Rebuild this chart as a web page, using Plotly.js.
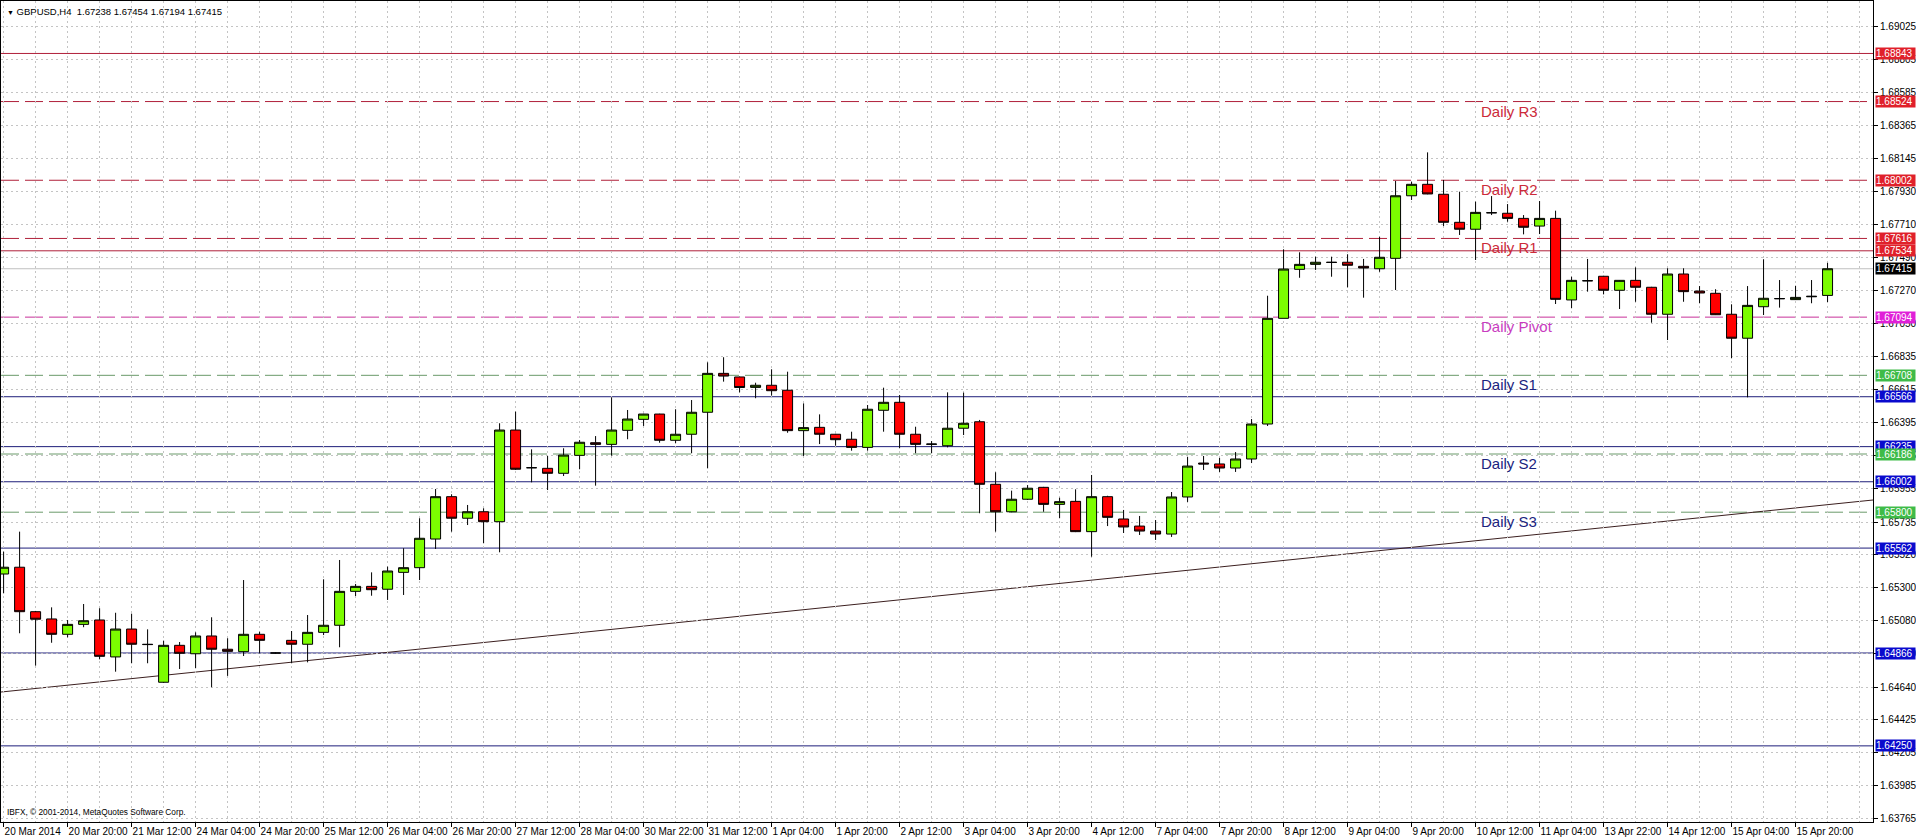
<!DOCTYPE html>
<html>
<head>
<meta charset="utf-8">
<script src="https://cdn.plot.ly/plotly-3.0.1.min.js"></script>
<style>
html,body{margin:0;padding:0;background:#ffffff;}
#chart{width:1916px;height:840px;}
</style>
</head>
<body>
<div id="chart"></div>
<script>
// ---------------- DATA ----------------
const SYMBOL = 'GBPUSD,H4';
const COPYRIGHT = 'IBFX, \u00a9 2001-2014, MetaQuotes Software Corp.';

// H4 bars, oldest first
const OPEN = [
1.65390,1.65435,1.65140,1.65092,1.64990,1.65056,1.65085,1.64840,1.65025,1.64924,
1.64672,1.64917,1.64861,1.64979,1.64891,1.64875,1.64990,1.64866,1.64950,1.64924,
1.65003,1.65050,1.65275,1.65308,1.65289,1.65401,1.65432,1.65622,1.65903,1.65760,
1.65803,1.65737,1.66345,1.66095,1.66091,1.66058,1.66177,1.66261,1.66250,1.66343,
1.66416,1.66451,1.66277,1.66317,1.66463,1.66721,1.66697,1.66628,1.66642,1.66609,
1.66341,1.66363,1.66317,1.66284,1.66230,1.66476,1.66529,1.66317,1.66250,1.66241,
1.66357,1.66400,1.65985,1.65803,1.65886,1.65965,1.65852,1.65872,1.65671,1.65903,
1.65755,1.65708,1.65675,1.65655,1.65901,1.66126,1.66120,1.66093,1.66153,1.66385,
1.67086,1.67411,1.67444,1.67458,1.67458,1.67431,1.67415,1.67484,1.67899,1.67975,
1.67909,1.67723,1.67677,1.67787,1.67783,1.67749,1.67698,1.67749,1.67208,1.67336,
1.67365,1.67272,1.67338,1.67292,1.67113,1.67380,1.67267,1.67252,1.67113,1.66954,
1.67163,1.67216,1.67210,1.67229,1.67238];
const HIGH = [
1.65538,1.65671,1.65145,1.65169,1.65085,1.65191,1.65163,1.65133,1.65127,1.65023,
1.64948,1.64939,1.65003,1.65103,1.64964,1.65350,1.65007,1.64870,1.65012,1.65118,
1.65355,1.65483,1.65324,1.65401,1.65439,1.65561,1.65760,1.65954,1.65919,1.65848,
1.65826,1.66390,1.66467,1.66217,1.66173,1.66224,1.66279,1.66305,1.66562,1.66478,
1.66453,1.66453,1.66483,1.66544,1.66794,1.66828,1.66699,1.66659,1.66748,1.66732,
1.66522,1.66449,1.66320,1.66334,1.66511,1.66626,1.66577,1.66367,1.66272,1.66595,
1.66593,1.66412,1.66065,1.65943,1.65980,1.65968,1.65896,1.65952,1.66047,1.65909,
1.65815,1.65775,1.65748,1.65934,1.66166,1.66173,1.66160,1.66199,1.66418,1.67236,
1.67544,1.67524,1.67495,1.67495,1.67511,1.67480,1.67627,1.67997,1.67992,1.68187,
1.68004,1.67926,1.67860,1.67897,1.67844,1.67771,1.67864,1.67800,1.67362,1.67480,
1.67368,1.67340,1.67424,1.67295,1.67418,1.67418,1.67300,1.67279,1.67179,1.67300,
1.67478,1.67340,1.67302,1.67340,1.67454];
const LOW = [
1.65262,1.64997,1.64782,1.64934,1.64970,1.65037,1.64824,1.64742,1.64798,1.64798,
1.64668,1.64760,1.64765,1.64639,1.64714,1.64846,1.64864,1.64862,1.64798,1.64804,
1.64985,1.64904,1.65244,1.65246,1.65218,1.65251,1.65350,1.65556,1.65671,1.65715,
1.65594,1.65534,1.66080,1.65998,1.65947,1.66040,1.66085,1.65976,1.66175,1.66284,
1.66372,1.66261,1.66257,1.66191,1.66091,1.66666,1.66595,1.66556,1.66573,1.66327,
1.66173,1.66252,1.66241,1.66208,1.66208,1.66334,1.66224,1.66191,1.66191,1.66230,
1.66312,1.65793,1.65671,1.65800,1.65881,1.65803,1.65760,1.65668,1.65505,1.65708,
1.65662,1.65649,1.65616,1.65636,1.65868,1.66080,1.66067,1.66067,1.66126,1.66372,
1.67086,1.67355,1.67407,1.67362,1.67292,1.67223,1.67395,1.67274,1.67871,1.67909,
1.67698,1.67639,1.67473,1.67771,1.67727,1.67643,1.67645,1.67181,1.67153,1.67263,
1.67245,1.67148,1.67196,1.67057,1.66942,1.67196,1.67186,1.67108,1.66821,1.66562,
1.67108,1.67157,1.67208,1.67186,1.67194];
const CLOSE = [
1.65435,1.65140,1.65090,1.64990,1.65056,1.65080,1.64844,1.65025,1.64924,1.64922,
1.64917,1.64864,1.64979,1.64891,1.64877,1.64990,1.64950,1.64866,1.64924,1.65003,
1.65050,1.65275,1.65308,1.65286,1.65410,1.65432,1.65627,1.65903,1.65760,1.65803,
1.65737,1.66345,1.66085,1.66095,1.66058,1.66179,1.66264,1.66250,1.66345,1.66418,
1.66451,1.66277,1.66317,1.66463,1.66721,1.66703,1.66627,1.66642,1.66606,1.66341,
1.66361,1.66317,1.66281,1.66230,1.66483,1.66529,1.66317,1.66250,1.66252,1.66357,
1.66390,1.65985,1.65803,1.65886,1.65959,1.65852,1.65870,1.65671,1.65903,1.65766,
1.65702,1.65675,1.65655,1.65901,1.66106,1.66120,1.66093,1.66153,1.66385,1.67086,
1.67413,1.67444,1.67458,1.67457,1.67438,1.67420,1.67491,1.67899,1.67975,1.67911,
1.67723,1.67677,1.67789,1.67786,1.67749,1.67690,1.67749,1.67212,1.67338,1.67335,
1.67272,1.67338,1.67292,1.67113,1.67380,1.67263,1.67254,1.67110,1.66954,1.67172,
1.67219,1.67217,1.67225,1.67232,1.67415];

// time-axis labels, one every 4 bars
const X_TICK_LABELS = ['20 Mar 2014','20 Mar 20:00','21 Mar 12:00','24 Mar 04:00','24 Mar 20:00',
'25 Mar 12:00','26 Mar 04:00','26 Mar 20:00','27 Mar 12:00','28 Mar 04:00','30 Mar 22:00',
'31 Mar 12:00','1 Apr 04:00','1 Apr 20:00','2 Apr 12:00','3 Apr 04:00','3 Apr 20:00',
'4 Apr 12:00','7 Apr 04:00','7 Apr 20:00','8 Apr 12:00','9 Apr 04:00','9 Apr 20:00',
'10 Apr 12:00','11 Apr 04:00','13 Apr 22:00','14 Apr 12:00','15 Apr 04:00','15 Apr 20:00'];
const BARS_PER_LABEL = 4;

// price-axis labels
const Y_TICK_LABELS = ['1.63765','1.63985','1.64205','1.64425','1.64640','1.64860','1.65080',
'1.65300','1.65520','1.65735','1.65955','1.66175','1.66395','1.66615','1.66835','1.67050',
'1.67270','1.67490','1.67710','1.67930','1.68145','1.68365','1.68585','1.68805','1.69025'];

// daily pivot levels
const PIVOT_NAMES  = ['Daily R3','Daily R2','Daily R1','Daily Pivot','Daily S1','Daily S2','Daily S3'];
const PIVOT_PRICES = [1.68524, 1.68002, 1.67616, 1.67094, 1.66708, 1.66186, 1.65800];
const PIVOT_KIND   = ['r','r','r','p','s','s','s'];

// horizontal support / resistance lines
const RES_LEVELS = [1.68843, 1.67534];
const SUP_LEVELS = [1.66566, 1.66235, 1.66002, 1.65562, 1.64866, 1.64250];

// trend line through two points (bar index, price)
const TREND_BARS   = [0, 114];
const TREND_PRICES = [1.64609, 1.65850];

// ---------------- STYLE ----------------
const FONT = 'Liberation Sans, Arial, sans-serif';
const X_RANGE = [-0.1625, 116.84];
const Y_RANGE = [1.63745, 1.69191];
const GRID = '#c4c4c4';
const COL = {
  resLine: '#b0203a', resBg: '#e0202a',
  pivLine: '#c8309a', pivBg: '#e020d8', pivText: '#c83cc0',
  supLineDash: '#6a9a6a', supBgDash: '#3ebb48',
  navyLine: '#1e1e7a', navyBg: '#0a0acd',
  rText: '#cc2a3a', sText: '#1a237e'
};
const DASH = '18px,6px';

// ---------------- BUILD ----------------
const barIndex = OPEN.map((_, i) => i);
const last = OPEN.length - 1;

const candles = {
  type: 'candlestick',
  x: barIndex, open: OPEN, high: HIGH, low: LOW, close: CLOSE,
  increasing: {line: {color: '#000000', width: 1}, fillcolor: '#7cfc00'},
  decreasing: {line: {color: '#000000', width: 1}, fillcolor: '#ff0000'},
  whiskerwidth: 0,
  hoverinfo: 'skip',
  showlegend: false
};

const shapes = [];
function hline(price, color, dash) {
  shapes.push({type: 'line', xref: 'paper', x0: 0, x1: 1, yref: 'y', y0: price, y1: price,
    line: {color: color, width: 1, dash: dash}, layer: 'below'});
}
// bid line
hline(CLOSE[last], '#c0c0c0', 'solid');
RES_LEVELS.forEach(p => hline(p, COL.resLine, 'solid'));
SUP_LEVELS.forEach(p => hline(p, COL.navyLine, 'solid'));
PIVOT_PRICES.forEach((p, i) => {
  const k = PIVOT_KIND[i];
  hline(p, k === 'r' ? COL.resLine : (k === 'p' ? COL.pivLine : COL.supLineDash), DASH);
});
// trend line extended over the visible range
const slope = (TREND_PRICES[1] - TREND_PRICES[0]) / (TREND_BARS[1] - TREND_BARS[0]);
const trendAt = b => TREND_PRICES[0] + slope * (b - TREND_BARS[0]);
shapes.push({type: 'line', xref: 'x', yref: 'y', x0: X_RANGE[0], x1: X_RANGE[1],
  y0: trendAt(X_RANGE[0]), y1: trendAt(X_RANGE[1]),
  line: {color: '#3b1f1f', width: 1}, layer: 'below'});

const annotations = [];
// header
const hdr = [OPEN[last], HIGH[last], LOW[last], CLOSE[last]].map(v => v.toFixed(5)).join(' ');
annotations.push({xref: 'paper', yref: 'paper', x: 0, y: 1, xanchor: 'left', yanchor: 'top',
  xshift: 4, yshift: -3, showarrow: false,
  text: '<span style="font-size:7px">\u25bc</span> ' + SYMBOL + '\u00a0\u00a0' + hdr,
  font: {family: FONT, size: 9.5, color: '#000000'}});
// copyright
annotations.push({xref: 'paper', yref: 'paper', x: 0, y: 0, xanchor: 'left', yanchor: 'bottom',
  xshift: 4, yshift: 3, showarrow: false, text: COPYRIGHT,
  font: {family: FONT, size: 8.3, color: '#000000'}});
// pivot names
PIVOT_NAMES.forEach((name, i) => {
  const k = PIVOT_KIND[i];
  annotations.push({xref: 'x', yref: 'y', x: 92.2, y: PIVOT_PRICES[i], xanchor: 'left',
    yanchor: 'middle', yshift: -9.5, showarrow: false, text: name,
    font: {family: FONT, size: 15, color: k === 'r' ? COL.rText : (k === 'p' ? COL.pivText : COL.sText)}});
});
// price tags on the right axis
function tag(price, bg) {
  annotations.push({xref: 'paper', yref: 'y', x: 1, y: price, xanchor: 'left', yanchor: 'middle',
    xshift: 2, showarrow: false, text: price.toFixed(5), bgcolor: bg, borderpad: 0,
    width: 39, align: 'left',
    font: {family: FONT, size: 10, color: '#ffffff'}});
}
SUP_LEVELS.forEach(p => tag(p, COL.navyBg));
RES_LEVELS.forEach(p => tag(p, COL.resBg));
PIVOT_PRICES.forEach((p, i) => {
  const k = PIVOT_KIND[i];
  tag(p, k === 'r' ? COL.resBg : (k === 'p' ? COL.pivBg : COL.supBgDash));
});
tag(CLOSE[last], '#000000');

const layout = {
  width: 1916, height: 840,
  margin: {l: 1, r: 43, t: 1, b: 18, pad: 0},
  paper_bgcolor: '#ffffff', plot_bgcolor: '#ffffff',
  font: {family: FONT, size: 10, color: '#000000'},
  showlegend: false,
  boxgap: 0.375, boxgroupgap: 0,
  xaxis: {
    type: 'linear', range: X_RANGE, autorange: false, fixedrange: true,
    rangeslider: {visible: false},
    tickmode: 'array',
    tickvals: X_TICK_LABELS.map((_, i) => i * BARS_PER_LABEL),
    ticktext: X_TICK_LABELS,
    ticks: 'outside', ticklen: 4, tickcolor: '#000000', tickwidth: 1,
    ticklabelposition: 'outside right', tickangle: 0,
    tickfont: {family: FONT, size: 10, color: '#000000'},
    showgrid: true, gridcolor: GRID, griddash: '2px,3px', gridwidth: 1,
    minor: {tickmode: 'linear', tick0: 0, dtick: 2, showgrid: true, gridcolor: GRID,
            griddash: '2px,3px', gridwidth: 1, ticks: ''},
    showline: true, mirror: true, linecolor: '#000000', linewidth: 1,
    zeroline: false
  },
  yaxis: {
    range: Y_RANGE, autorange: false, fixedrange: true, side: 'right',
    tickmode: 'array',
    tickvals: Y_TICK_LABELS.map(Number),
    ticktext: Y_TICK_LABELS,
    ticks: 'outside', ticklen: 4, tickcolor: '#000000', tickwidth: 1,
    tickfont: {family: FONT, size: 10, color: '#000000'},
    showgrid: true, gridcolor: GRID, griddash: '2px,3px', gridwidth: 1,
    showline: true, mirror: true, linecolor: '#000000', linewidth: 1,
    zeroline: false
  },
  shapes: shapes,
  annotations: annotations
};

Plotly.newPlot('chart', [candles], layout, {displayModeBar: false, staticPlot: true});
</script>
</body>
</html>
